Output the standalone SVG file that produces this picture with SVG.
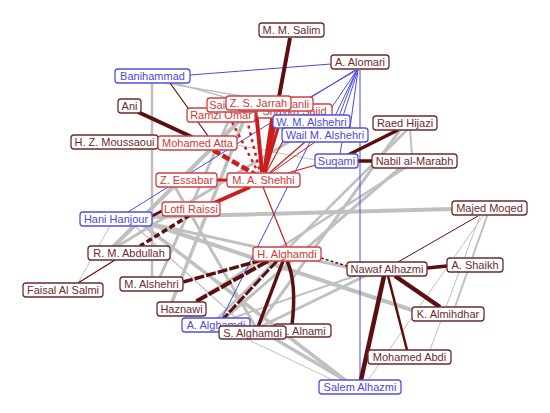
<svg xmlns="http://www.w3.org/2000/svg" width="550" height="413" viewBox="0 0 550 413">
<style>
.n rect{fill:#fff;stroke-width:1.3}
.n text{font-family:"Liberation Sans",Arial,sans-serif;font-size:11px;text-anchor:middle}
.d rect{stroke:#6b2b2b}.d text{fill:#6b2b2b}
.r rect{stroke:#d04040}.r text{fill:#d03838}
.b rect{stroke:#5050e0}.b text{fill:#4a4ae0}
.g{stroke:#c0c0c0;fill:none;stroke-linecap:round}
.k{stroke:#5c0f0f;fill:none}
.rd{stroke:#cc1c1c;fill:none}
.bl{stroke:#4a4ae6;fill:none;stroke-width:1}
</style>
<rect width="550" height="413" fill="#fff"/>
<g id="connectors">
  <!-- gray -->
  <line class="g" x1="152" y1="217" x2="452" y2="209" stroke-width="4"/>
  <line class="g" x1="150" y1="224" x2="415" y2="311" stroke-width="4"/>
  <line class="g" x1="148" y1="223" x2="350" y2="268" stroke-width="3"/>
  <line class="g" x1="143" y1="225" x2="345" y2="380" stroke-width="3.5"/>
  <line class="g" x1="110" y1="226" x2="78" y2="283" stroke-width="1"/>
  <line class="g" x1="135" y1="226" x2="245" y2="326" stroke-width="1.2"/>
  <line class="g" x1="152" y1="83" x2="152" y2="277" stroke-width="2.5"/>
  <line class="g" x1="165" y1="83" x2="300" y2="106" stroke-width="1.5"/>
  <line class="g" x1="175" y1="83" x2="305" y2="120" stroke-width="1.5"/>
  <line class="g" x1="118" y1="246" x2="300" y2="135" stroke-width="3"/>
  <line class="g" x1="114" y1="246" x2="250" y2="110" stroke-width="4"/>
  <line class="g" x1="160" y1="277" x2="228" y2="122" stroke-width="3"/>
  <line class="g" x1="172" y1="302" x2="247" y2="112" stroke-width="3.5"/>
  <line class="g" x1="175" y1="187" x2="255" y2="326" stroke-width="3"/>
  <line class="g" x1="400" y1="130" x2="258" y2="326" stroke-width="3"/>
  <line class="g" x1="407" y1="130" x2="216" y2="320" stroke-width="2.5"/>
  <line class="g" x1="400" y1="168" x2="225" y2="318" stroke-width="3"/>
  <line class="g" x1="405" y1="168" x2="195" y2="302" stroke-width="2.5"/>
  <line class="g" x1="410" y1="130" x2="412" y2="154" stroke-width="2"/>
  <line class="g" x1="365" y1="276" x2="262" y2="326" stroke-width="3"/>
  <line class="g" x1="355" y1="276" x2="230" y2="319" stroke-width="2"/>
  <line class="g" x1="275" y1="339" x2="345" y2="380" stroke-width="3.5"/>
  <line class="g" x1="232" y1="332" x2="335" y2="381" stroke-width="1"/>
  <line class="g" x1="483" y1="216" x2="368" y2="380" stroke-width="1"/>
  <line class="g" x1="487" y1="216" x2="455" y2="307" stroke-width="2"/>
  <line class="g" x1="480" y1="216" x2="430" y2="350" stroke-width="1"/>
  <line class="g" x1="237" y1="145" x2="315" y2="160" stroke-width="1" stroke="#d2d2d2"/>
  <!-- blue -->
  <line class="bl" x1="190" y1="75" x2="331" y2="64" stroke-width="1.2"/>
  <line class="bl" x1="128" y1="212" x2="355" y2="70"/>
  <line class="bl" x1="357" y1="70" x2="305" y2="100"/>
  <line class="bl" x1="357" y1="70" x2="330" y2="110"/>
  <line class="bl" x1="357" y1="70" x2="335" y2="116"/>
  <line class="bl" x1="357" y1="70" x2="339" y2="116"/>
  <line class="bl" x1="358" y1="70" x2="343" y2="116"/>
  <line class="bl" x1="358" y1="70" x2="350" y2="128"/>
  <line class="bl" x1="360" y1="70" x2="360" y2="380" stroke-width="1.2"/>
  <line class="bl" x1="342" y1="142" x2="340" y2="154"/>
  <line class="bl" x1="310" y1="142" x2="222" y2="318"/>
  <!-- dark -->
  <line class="k" x1="290" y1="38" x2="279" y2="97" stroke-width="4"/>
  <line class="k" x1="138" y1="112" x2="192" y2="137" stroke-width="4"/>
  <line class="k" x1="170" y1="83" x2="208" y2="136" stroke-width="1.2" stroke="#7a3030"/>
  <line class="k" x1="398" y1="130" x2="348" y2="155" stroke-width="3.5"/>
  <line class="k" x1="358" y1="161" x2="372" y2="161" stroke-width="3.5"/>
  <line class="k" x1="152" y1="216" x2="162" y2="211" stroke-width="3"/>
  <line class="k" x1="190" y1="215" x2="140" y2="246" stroke-width="3.5" stroke-dasharray="6 3"/>
  <line class="k" x1="115" y1="260" x2="78" y2="283" stroke-width="1.2"/>
  <line class="k" x1="262" y1="260" x2="183" y2="282" stroke-width="3.5" stroke-dasharray="10 2"/>
  <line class="k" x1="268" y1="261" x2="195" y2="302" stroke-width="4" stroke-dasharray="12 2"/>
  <line class="k" x1="277" y1="261" x2="222" y2="320" stroke-width="3" stroke-dasharray="10 2"/>
  <line class="k" x1="283" y1="261" x2="258" y2="327" stroke-width="3.5"/>
  <path class="k" d="M287 261 Q297 282 292 325" stroke-width="3.5"/>
  <line class="k" x1="321" y1="258" x2="347" y2="266" stroke-width="1.5" stroke-dasharray="3 2"/>
  <line class="k" x1="427" y1="268" x2="447" y2="266" stroke-width="3.5"/>
  <line class="k" x1="395" y1="276" x2="440" y2="307" stroke-width="4.5"/>
  <line class="k" x1="388" y1="276" x2="407" y2="350" stroke-width="2.5"/>
  <line class="k" x1="384" y1="276" x2="361" y2="380" stroke-width="4.5"/>
  <line class="k" x1="398" y1="262" x2="478" y2="216" stroke-width="1"/>
  <!-- red -->
  <line class="rd" x1="213" y1="150" x2="258" y2="176" stroke-width="4.5" stroke-dasharray="8 3"/>
  <line class="rd" x1="232" y1="122" x2="258" y2="172" stroke-width="2.5" stroke-dasharray="3 4"/>
  <line class="rd" x1="245" y1="112" x2="260" y2="172" stroke-width="2.5" stroke-dasharray="3 4"/>
  <line class="rd" x1="256" y1="110" x2="262" y2="172" stroke-width="4"/>
  <line class="rd" x1="278" y1="108" x2="264" y2="172" stroke-width="4"/>
  <line class="rd" x1="283" y1="111" x2="265" y2="172" stroke-width="3"/>
  <line class="rd" x1="272" y1="118" x2="264" y2="172" stroke-width="3.5"/>
  <line class="rd" x1="290" y1="128" x2="266" y2="173" stroke-width="1.2"/>
  <line class="rd" x1="305" y1="142" x2="268" y2="174" stroke-width="1.2"/>
  <line class="rd" x1="315" y1="142" x2="268" y2="175" stroke-width="1"/>
  <line class="rd" x1="316" y1="165" x2="270" y2="178" stroke-width="1.2" stroke="#d06030"/>
  <line class="rd" x1="217" y1="180" x2="227" y2="180" stroke-width="3"/>
  <line class="rd" x1="250" y1="187" x2="205" y2="207" stroke-width="4"/>
  <line class="rd" x1="263" y1="187" x2="287" y2="247" stroke-width="1.2"/>
</g>
<g id="n-salim" class="n d"><rect x="259" y="23" width="65" height="14" rx="3"/><text x="291.5" y="34">M. M. Salim</text></g>
<g id="n-alomari" class="n d"><rect x="331" y="55" width="58" height="14" rx="3"/><text x="360" y="66">A. Alomari</text></g>
<g id="n-banihammad" class="n b"><rect x="115" y="69" width="75" height="14" rx="3"/><text x="152.5" y="80">Banihammad</text></g>
<g id="n-ani" class="n d"><rect x="118" y="99" width="23" height="14" rx="3"/><text x="129.5" y="110">Ani</text></g>
<g id="n-moussaoui" class="n d"><rect x="71" y="135" width="87" height="14" rx="3"/><text x="114.5" y="146">H. Z. Moussaoui</text></g>
<g id="n-atta" class="n r"><rect x="158" y="136" width="79" height="14" rx="3"/><text x="197.5" y="147">Mohamed Atta</text></g>
<g id="n-ramzi" class="n r"><rect x="187" y="108" width="68" height="14" rx="3"/><text x="221" y="119">Ramzi Omar</text></g>
<g id="n-said" class="n r"><rect x="207" y="98" width="60" height="14" rx="3"/><text x="237" y="109">Said Bahaji</text></g>
<g id="n-shaykh" class="n r"><rect x="257" y="104" width="75" height="14" rx="3"/><text x="294.5" y="115">Shaykh Saiid</text></g>
<g id="n-darkazanli" class="n r"><rect x="238" y="97" width="75" height="14" rx="3"/><text x="275.5" y="108">M. Darkazanli</text></g>
<g id="n-jarrah" class="n r"><rect x="226" y="96" width="65" height="14" rx="3"/><text x="258.5" y="107">Z. S. Jarrah</text></g>
<g id="n-wm-alshehri" class="n b"><rect x="273" y="115" width="77" height="13" rx="3"/><text x="311.5" y="125.5">W. M. Alshehri</text></g>
<g id="n-wail" class="n b"><rect x="282" y="128" width="86" height="14" rx="3"/><text x="325" y="139">Wail M. Alshehri</text></g>
<g id="n-raed" class="n d"><rect x="373" y="116" width="64" height="14" rx="3"/><text x="405" y="127">Raed Hijazi</text></g>
<g id="n-suqami" class="n b"><rect x="315" y="154" width="43" height="14" rx="3"/><text x="336.5" y="165">Suqami</text></g>
<g id="n-nabil" class="n d"><rect x="372" y="154" width="85" height="14" rx="3"/><text x="414.5" y="165">Nabil al-Marabh</text></g>
<g id="n-essabar" class="n r"><rect x="156" y="173" width="61" height="14" rx="3"/><text x="186.5" y="184">Z. Essabar</text></g>
<g id="n-shehhi" class="n r"><rect x="227" y="173" width="73" height="14" rx="3"/><text x="263.5" y="184">M. A. Shehhi</text></g>
<g id="n-lotfi" class="n r"><rect x="162" y="202" width="58" height="14" rx="3"/><text x="191" y="213">Lotfi Raissi</text></g>
<g id="n-hanjour" class="n b"><rect x="80" y="212" width="72" height="14" rx="3"/><text x="116" y="223">Hani Hanjour</text></g>
<g id="n-majed" class="n d"><rect x="452" y="201" width="75" height="14" rx="3"/><text x="489.5" y="212">Majed Moqed</text></g>
<g id="n-abdullah" class="n d"><rect x="88" y="246" width="82" height="14" rx="3"/><text x="129" y="257">R. M. Abdullah</text></g>
<g id="n-h-alghamdi" class="n r"><rect x="253" y="247" width="68" height="14" rx="3"/><text x="287" y="258">H. Alghamdi</text></g>
<g id="n-nawaf" class="n d"><rect x="347" y="262" width="80" height="14" rx="3"/><text x="387" y="273">Nawaf Alhazmi</text></g>
<g id="n-shaikh" class="n d"><rect x="447" y="258" width="56" height="14" rx="3"/><text x="475" y="269">A. Shaikh</text></g>
<g id="n-m-alshehri" class="n d"><rect x="120" y="277" width="63" height="14" rx="3"/><text x="151.5" y="288">M. Alshehri</text></g>
<g id="n-faisal" class="n d"><rect x="23" y="283" width="80" height="14" rx="3"/><text x="63" y="294">Faisal Al Salmi</text></g>
<g id="n-haznawi" class="n d"><rect x="157" y="302" width="49" height="14" rx="3"/><text x="181.5" y="313">Haznawi</text></g>
<g id="n-almihdhar" class="n d"><rect x="412" y="307" width="72" height="14" rx="3"/><text x="448" y="318">K. Almihdhar</text></g>
<g id="n-a-alghamdi" class="n b"><rect x="182" y="318" width="68" height="14" rx="3"/><text x="216" y="329">A. Alghamdi</text></g>
<g id="n-alnami" class="n d"><rect x="274" y="324" width="57" height="13" rx="3"/><text x="302.5" y="334.5">A. Alnami</text></g>
<g id="n-s-alghamdi" class="n d"><rect x="219" y="326" width="67" height="13" rx="3"/><text x="252.5" y="336.5">S. Alghamdi</text></g>
<g id="n-abdi" class="n d"><rect x="368" y="350" width="83" height="14" rx="3"/><text x="409.5" y="361">Mohamed Abdi</text></g>
<g id="n-salem" class="n b"><rect x="319" y="380" width="82" height="14" rx="3"/><text x="360" y="391">Salem Alhazmi</text></g>
</svg>
